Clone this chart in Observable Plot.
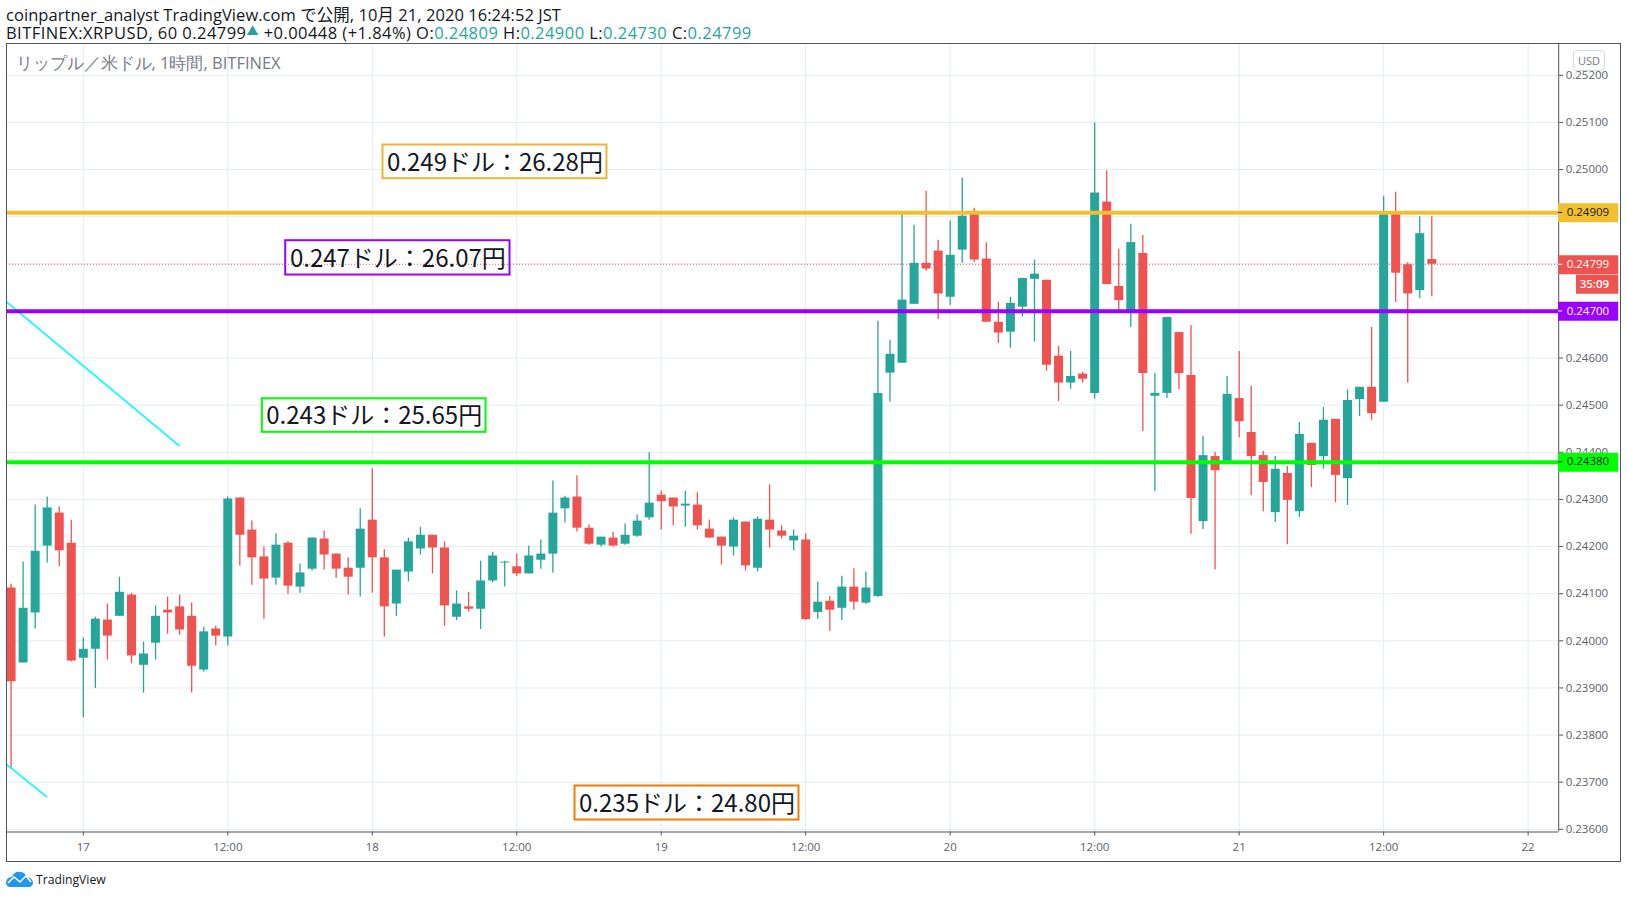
<!DOCTYPE html>
<html lang="ja">
<head>
<meta charset="utf-8">
<script src="https://cdn.jsdelivr.net/npm/d3@7"></script>
<script src="https://cdn.jsdelivr.net/npm/@observablehq/plot@0.6"></script>
<style>
  html, body { margin: 0; padding: 0; background: #fff; width: 1627px; height: 898px; overflow: hidden; }
  body { position: relative; font-family: "Open Sans", "Noto Sans CJK JP", sans-serif; color: #131722; }
  #head { height: 43px; box-sizing: border-box; padding: 6px 0 0 6px; font-size: 16.5px; line-height: 17px; white-space: nowrap; }
  #head .l1 { letter-spacing: 0.05px; }
  #head .l2 { letter-spacing: 0.45px; }
  #head .v { color: #26a69a; }
  #head .up { color: #26a69a; font-size: 12px; vertical-align: 3px; }
  #outer { position: absolute; left: 6px; top: 43px; width: 1613px; height: 817px; border: 1px solid #50535e; pointer-events: none; }
  #usd { position: absolute; left: 1573px; top: 50px; width: 30px; height: 19px; border: 1px solid #d6d8e0; border-radius: 4px; font-size: 11px; line-height: 19px; text-align: center; color: #787b86; background: #fff; }
  #foot { position: absolute; left: 6px; top: 870px; height: 18px; display: flex; align-items: center; gap: 3px; font-size: 12.2px; color: #131722; }
  svg.plot { display: block; }
</style>
</head>
<body>
<div id="head">
  <div class="l1">coinpartner_analyst TradingView.com で公開, 10月 21, 2020 16:24:52 JST</div>
  <div class="l2">BITFINEX:XRPUSD, 60 0.24799<span class="up">▲</span> +0.00448 (+1.84%) O:<span class="v">0.24809</span> H:<span class="v">0.24900</span> L:<span class="v">0.24730</span> C:<span class="v">0.24799</span></div>
</div>
<div id="chart"></div>
<div id="outer"></div>
<div id="usd">USD</div>
<div id="foot">
  <svg width="27" height="16" viewBox="0 0 27 16"><path d="M0 12 C0 8 3 6 6 6 C7 2 11 0 14 1 C17 1 20 3 21 6 C24 6 27 9 27 12 C27 14 25 16 23 16 L4 16 C2 16 0 14 0 12 Z" fill="#2196f3"/><path d="M2 12 L8 6 L14 11 L20 5 L25 11" fill="none" stroke="#fff" stroke-width="1.6"/></svg>
  <span>TradingView</span>
</div>
<script>
// hours counted from 17 Oct 00:00 (JST); one candle per hour
const firstHour = -6;
const opens = [
0.24112,0.23953,0.24059,0.24201,0.24271,0.24207,0.23963,0.23982,0.24044,0.24052,
0.24097,0.23948,0.23995,0.24065,0.24072,0.24052,0.23938,0.24025,0.24008,0.24303,
0.24235,0.24178,0.24133,0.24207,0.24114,0.24152,0.24216,0.24184,0.24154,0.24154,
0.24256,0.24176,0.24078,0.24146,0.24195,0.24224,0.24197,0.24050,0.24072,0.24067,
0.24127,0.24165,0.24157,0.24142,0.24171,0.24184,0.24280,0.24305,0.24239,0.24203,
0.24218,0.24205,0.24222,0.24261,0.24309,0.24303,0.24286,0.24288,0.24237,0.24220,
0.24199,0.24252,0.24154,0.24256,0.24233,0.24212,0.24214,0.24060,0.24084,0.24069,
0.24114,0.24080,0.24094,0.24568,0.24589,0.24714,0.24801,0.24827,0.24729,0.24829,
0.24905,0.24810,0.24676,0.24655,0.24708,0.24767,0.24765,0.24604,0.24547,0.24566,
0.24525,0.24931,0.24752,0.24700,0.24822,0.24519,0.24525,0.24654,0.24563,0.24253,
0.24391,0.24381,0.24514,0.24442,0.24393,0.24272,0.24355,0.24274,0.24419,0.24391,
0.24470,0.24344,0.24512,0.24538,0.24506,0.24905,0.24798,0.24743,0.24809];
const highs = [
0.24120,0.24167,0.24288,0.24305,0.24284,0.24256,0.24006,0.24050,0.24078,0.24135,
0.24101,0.23997,0.24074,0.24093,0.24097,0.24080,0.24029,0.24031,0.24305,0.24303,
0.24254,0.24199,0.24227,0.24210,0.24163,0.24218,0.24233,0.24184,0.24176,0.24280,
0.24365,0.24193,0.24150,0.24218,0.24241,0.24224,0.24210,0.24106,0.24103,0.24169,
0.24188,0.24169,0.24184,0.24201,0.24214,0.24339,0.24307,0.24350,0.24246,0.24220,
0.24231,0.24248,0.24267,0.24399,0.24318,0.24303,0.24318,0.24314,0.24256,0.24220,
0.24261,0.24252,0.24263,0.24331,0.24244,0.24235,0.24227,0.24125,0.24094,0.24137,
0.24153,0.24146,0.24678,0.24638,0.24905,0.24882,0.24954,0.24850,0.24891,0.24982,
0.24918,0.24844,0.24719,0.24729,0.24769,0.24808,0.24765,0.24625,0.24614,0.24570,
0.25099,0.24997,0.24831,0.24884,0.24860,0.24567,0.24686,0.24654,0.24669,0.24434,
0.24400,0.24561,0.24614,0.24540,0.24402,0.24391,0.24370,0.24463,0.24419,0.24495,
0.24470,0.24533,0.24538,0.24665,0.24943,0.24952,0.24802,0.24900,0.24900];
const lows = [
0.23730,0.23953,0.24025,0.24165,0.24157,0.23955,0.23837,0.23899,0.23959,0.24052,
0.23951,0.23889,0.23959,0.24014,0.24012,0.23889,0.23934,0.23989,0.23989,0.24159,
0.24118,0.24046,0.24118,0.24099,0.24101,0.24148,0.24150,0.24133,0.24097,0.24093,
0.24101,0.24008,0.24052,0.24125,0.24182,0.24142,0.24031,0.24043,0.24061,0.24024,
0.24123,0.24114,0.24137,0.24142,0.24152,0.24144,0.24250,0.24231,0.24203,0.24199,
0.24199,0.24203,0.24220,0.24256,0.24235,0.24244,0.24241,0.24235,0.24218,0.24161,
0.24180,0.24148,0.24146,0.24197,0.24216,0.24191,0.24043,0.24045,0.24020,0.24043,
0.24065,0.24077,0.24092,0.24506,0.24589,0.24714,0.24784,0.24682,0.24712,0.24801,
0.24803,0.24676,0.24631,0.24621,0.24687,0.24634,0.24572,0.24508,0.24534,0.24547,
0.24513,0.24756,0.24701,0.24665,0.24444,0.24317,0.24514,0.24533,0.24226,0.24236,
0.24150,0.24381,0.24431,0.24308,0.24274,0.24251,0.24204,0.24262,0.24325,0.24364,
0.24293,0.24287,0.24476,0.24468,0.24506,0.24718,0.24547,0.24726,0.24730];
const closes = [
0.23913,0.24069,0.24190,0.24282,0.24191,0.23957,0.23982,0.24046,0.24010,0.24103,
0.23968,0.23972,0.24052,0.24059,0.24023,0.23946,0.24019,0.24010,0.24301,0.24224,
0.24176,0.24131,0.24203,0.24116,0.24144,0.24218,0.24182,0.24152,0.24135,0.24237,
0.24176,0.24072,0.24150,0.24210,0.24224,0.24197,0.24074,0.24078,0.24067,0.24127,
0.24180,0.24167,0.24142,0.24180,0.24184,0.24271,0.24303,0.24239,0.24205,0.24220,
0.24201,0.24224,0.24254,0.24292,0.24295,0.24284,0.24290,0.24244,0.24218,0.24201,
0.24256,0.24159,0.24258,0.24235,0.24222,0.24222,0.24045,0.24082,0.24065,0.24114,
0.24082,0.24112,0.24525,0.24608,0.24723,0.24801,0.24789,0.24736,0.24818,0.24901,
0.24808,0.24676,0.24653,0.24716,0.24769,0.24778,0.24585,0.24547,0.24561,0.24555,
0.24950,0.24756,0.24722,0.24845,0.24567,0.24525,0.24686,0.24567,0.24302,0.24393,
0.24361,0.24523,0.24465,0.24391,0.24336,0.24364,0.24298,0.24438,0.24372,0.24468,
0.24351,0.24510,0.24538,0.24482,0.24909,0.24780,0.24736,0.24864,0.24799];

const priceTicks = [0.236,0.237,0.238,0.239,0.240,0.241,0.242,0.243,0.244,0.245,0.246,0.247,0.248,0.249,0.250,0.251,0.252];
const hiddenPriceLabels = [0.247,0.248,0.249];   // covered by the price tags in the reference
const timeTicks = [0,12,24,36,48,60,72,84,96,108,120];
const timeLabels = ["17","12:00","18","12:00","19","12:00","20","12:00","21","12:00","22"];

const levelPrices = [0.24909,0.24700,0.24380];
const levelColors = ["#f2c02e","#9900ff","#00ff00"];
const levelText = ["#131722","#ffffff","#131722"];
const lastPrice = 0.24799;
const countdown = "35:09";

const noteTexts = ["0.249ドル：26.28円","0.247ドル：26.07円","0.243ドル：25.65円","0.235ドル：24.80円"];
const noteColors = ["#f2b32e","#9900ff","#00ff00","#f57c00"];
const noteX1 = [24.89,16.81,14.87,40.84];
const noteX2 = [43.49,35.44,33.45,59.44];
const noteP1 = [0.249806,0.247762,0.244424,0.236197];
const noteP2 = [0.250521,0.248490,0.245137,0.236919];

const trendA = [{h:-6.38,p:0.24719},{h:7.95,p:0.24414}];
const trendB = [{h:-6.38,p:0.23738},{h:-3.04,p:0.23669}];

const chartTitle = "リップル／米ドル, 1時間, BITFINEX";

const up = "#26a69a", down = "#ef5350", grid = "#e3edf3", axis = "#50535e";
const candles = opens.map((o,i)=>({h:firstHour+i,o,hi:highs[i],lo:lows[i],c:closes[i],col:closes[i]>=o?up:down}));
const notes = noteTexts.map((t,i)=>({t,col:noteColors[i],x1:noteX1[i],x2:noteX2[i],y1:noteP1[i],y2:noteP2[i]}));
const levels = levelPrices.map((p,i)=>({p,col:levelColors[i],txt:levelText[i]}));
const tags = [...levels,{p:lastPrice,col:down,txt:"#ffffff"}];
const tagFont = "Open Sans, sans-serif";
const noteFont = "Noto Sans CJK JP, sans-serif";

const chart = Plot.plot({
  width: 1627, height: 823,
  marginLeft: 6, marginRight: 68.8, marginTop: 0, marginBottom: 34.5,
  style: {background:"#fff", fontFamily: tagFont},
  x: {type:"linear", domain:[-6.38,122.54]},
  y: {type:"linear", domain:[0.235943,0.252675]},
  marks: [
    Plot.gridY(priceTicks,{stroke:grid,strokeOpacity:1}),
    Plot.gridX(timeTicks,{stroke:grid,strokeOpacity:1}),
    Plot.axisY({anchor:"right",ticks:priceTicks,tickFormat:d=>hiddenPriceLabels.includes(d)?"":d3.format(".5f")(d),tickSize:4,tickPadding:3,label:null,fontSize:11.5,color:"#5d606b",stroke:axis}),
    Plot.axisX({ticks:timeTicks,tickFormat:(d,i)=>timeLabels[i],tickSize:4,tickPadding:7,label:null,fontSize:11.5,color:"#5d606b",stroke:axis}),
    Plot.ruleY([0.235943],{stroke:axis}),
    Plot.ruleX([122.54],{stroke:axis}),
    Plot.rect(notes,{x1:"x1",x2:"x2",y1:"y1",y2:"y2",fill:"#fff",stroke:"col",strokeWidth:2}),
    Plot.ruleY([lastPrice],{stroke:down,strokeWidth:1,strokeDasharray:"1 2"}),
    Plot.ruleX(candles,{x:"h",y1:"lo",y2:"hi",stroke:"col",strokeWidth:1.3}),
    Plot.ruleX(candles,{x:"h",y1:"o",y2:"c",stroke:"col",strokeWidth:9}),
    Plot.line(trendA,{x:"h",y:"p",stroke:"#00ffff",strokeWidth:1.6}),
    Plot.line(trendB,{x:"h",y:"p",stroke:"#00ffff",strokeWidth:1.6}),
    Plot.ruleY(levels,{y:"p",dy:0.4,stroke:"col",strokeWidth:4}),
    Plot.text(notes,{x:d=>(d.x1+d.x2)/2,y:d=>(d.y1+d.y2)/2,text:"t",dy:1,fontSize:24,fontFamily:noteFont,fill:"#131722"}),
    Plot.ruleY(tags,{y:"p",dy:0.4,stroke:"col",strokeWidth:19,insetLeft:1552,insetRight:-60}),
    Plot.ruleY([lastPrice],{dy:20,stroke:down,strokeWidth:19,insetLeft:1570,insetRight:-60}),
    Plot.ruleY(tags,{y:"p",stroke:d=>d.txt,strokeWidth:1,insetLeft:1552,insetRight:-4}),
    Plot.text(tags,{y:"p",text:d=>d3.format(".5f")(d.p),frameAnchor:"right",textAnchor:"start",dx:8,fill:"txt",fontSize:11.5,fontWeight:d=>d.txt==="#ffffff"?"600":"normal"}),
    Plot.text([countdown],{y:[lastPrice],frameAnchor:"right",textAnchor:"start",dx:21,dy:20,fill:"#fff",fontSize:11.5,fontWeight:"600"}),
    Plot.text([chartTitle],{frameAnchor:"top-left",dx:9,dy:13.5,fontSize:16.5,fill:"#787b86",lineAnchor:"top"})
  ]
});
document.getElementById("chart").append(chart);
</script>
</body>
</html>
